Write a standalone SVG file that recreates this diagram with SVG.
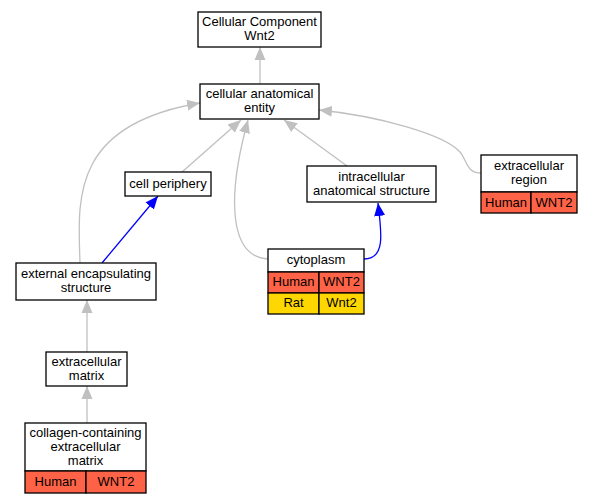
<svg xmlns="http://www.w3.org/2000/svg" width="593" height="504" viewBox="0 0 593 504">
<defs>
<marker id="ag" markerUnits="userSpaceOnUse" markerWidth="14" markerHeight="12" refX="13" refY="6" orient="auto"><path d="M0,0.5 L13,6 L0,11.5 Z" fill="#c0c0c0"/></marker>
<marker id="ab" markerUnits="userSpaceOnUse" markerWidth="14" markerHeight="12" refX="13" refY="6" orient="auto"><path d="M0,0.5 L13,6 L0,11.5 Z" fill="#0000ff"/></marker>
<style>
text{font-family:"Liberation Sans",Arial,sans-serif;font-size:13px;fill:#000;text-anchor:middle}
.b{fill:#fff;stroke:#000;stroke-width:1.3}
.h{fill:#ff6347;stroke:#000;stroke-width:1.3}
.r{fill:#ffd700;stroke:#000;stroke-width:1.3}
.g{fill:none;stroke:#c0c0c0;stroke-width:1.3;marker-end:url(#ag)}
.bl{fill:none;stroke:#0000ff;stroke-width:1.3;marker-end:url(#ab)}
</style>
</defs>
<rect width="593" height="504" fill="#fff"/>
<g id="connectors">
<path class="g" d="M260,84 L260,47"/>
<path class="g" d="M182,172 L241,120"/>
<path class="g" d="M347,166 L284,120"/>
<path class="g" d="M268,259 C230,257 226,200 248,120"/>
<path class="g" d="M80,263 C78,200 70,125 200,103"/>
<path class="g" d="M481,173 C466,173 467,160 460,152 C445,135 380,116 319,110"/>
<path class="bl" d="M364,259 C385,259 382,235 378,203"/>
<path class="bl" d="M102,263 L158,196"/>
<path class="g" d="M87,352 L87,300"/>
<path class="g" d="M87,423 L87,386"/>
</g>
<g id="n_cc"><rect class="b" x="198" y="12" width="123" height="35"/><text x="259.5" y="26">Cellular Component</text><text x="259.5" y="40">Wnt2</text></g>
<g id="n_cae"><rect class="b" x="200" y="84" width="119" height="35"/><text x="259.5" y="98">cellular anatomical</text><text x="259.5" y="112">entity</text></g>
<g id="n_cp"><rect class="b" x="125" y="172" width="86" height="24"/><text x="168" y="188">cell periphery</text></g>
<g id="n_ias"><rect class="b" x="307" y="166" width="129" height="36"/><text x="371.5" y="181">intracellular</text><text x="371.5" y="195">anatomical structure</text></g>
<g id="n_er"><rect class="b" x="481" y="155" width="96" height="37"/><text x="529" y="170">extracellular</text><text x="529" y="184">region</text><rect class="h" x="481" y="192" width="50" height="21"/><rect class="h" x="531" y="192" width="46" height="21"/><text x="506" y="207">Human</text><text x="554" y="207">WNT2</text></g>
<g id="n_cyt"><rect class="b" x="268" y="249" width="96" height="23"/><text x="316" y="264">cytoplasm</text><rect class="h" x="268" y="272" width="51" height="21"/><rect class="h" x="319" y="272" width="45" height="21"/><text x="293.5" y="286">Human</text><text x="341.5" y="286">WNT2</text><rect class="r" x="268" y="293" width="51" height="21"/><rect class="r" x="319" y="293" width="45" height="21"/><text x="293.5" y="307">Rat</text><text x="341.5" y="307">Wnt2</text></g>
<g id="n_ees"><rect class="b" x="16" y="263" width="140" height="37"/><text x="86" y="278">external encapsulating</text><text x="86" y="292">structure</text></g>
<g id="n_ecm"><rect class="b" x="46" y="352" width="81" height="34"/><text x="86.5" y="366">extracellular</text><text x="86.5" y="380">matrix</text></g>
<g id="n_cecm"><rect class="b" x="25" y="423" width="121" height="48"/><text x="85.5" y="437">collagen-containing</text><text x="85.5" y="451">extracellular</text><text x="85.5" y="465">matrix</text><rect class="h" x="25" y="471" width="61" height="22"/><rect class="h" x="86" y="471" width="60" height="22"/><text x="55.5" y="486">Human</text><text x="116" y="486">WNT2</text></g>
</svg>
